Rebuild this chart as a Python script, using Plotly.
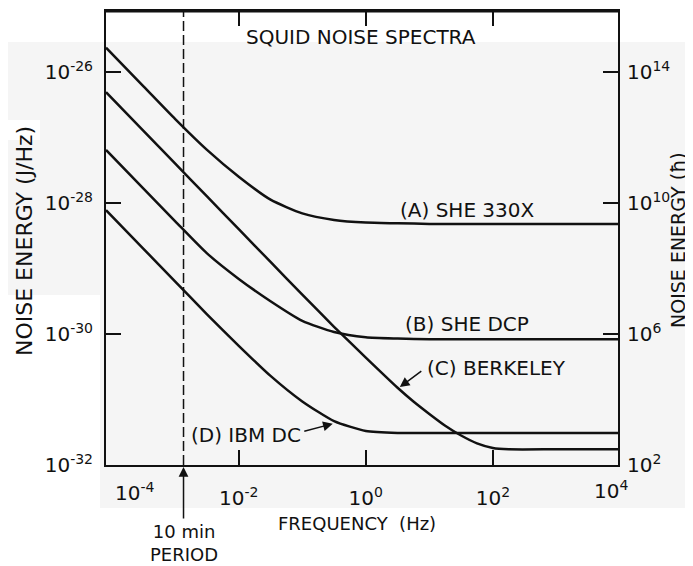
import math
import plotly.graph_objects as go

# ---------------- data (log10 units) ----------------
A_logf = [-4.09, -3.5, -3.0, -2.5, -2.0, -1.5, -1.0, -0.5, 0.0, 0.5, 1.0, 2.0, 3.0, 3.97]
A_logE = [-25.63, -26.22, -26.72, -27.19, -27.60, -27.95, -28.16, -28.26, -28.30, -28.31, -28.32, -28.32, -28.32, -28.32]

B_logf = [-4.09, -3.5, -3.0, -2.5, -2.0, -1.5, -1.0, -0.5, 0.0, 0.5, 1.0, 2.0, 3.0, 3.97]
B_logE = [-27.19, -27.78, -28.28, -28.77, -29.16, -29.50, -29.80, -29.97, -30.05, -30.07, -30.08, -30.08, -30.08, -30.08]

C_logf = [-4.09, -3.5, -3.0, -2.5, -2.0, -1.5, -1.0, -0.5, 0.0, 0.5, 0.75, 1.0, 1.25, 1.5, 1.75, 2.0, 2.25, 3.0, 3.97]
C_logE = [-26.31, -26.90, -27.40, -27.90, -28.40, -28.90, -29.40, -29.89, -30.36, -30.82, -31.03, -31.22, -31.40, -31.55, -31.67, -31.74, -31.76, -31.76, -31.76]

D_logf = [-4.09, -3.5, -3.0, -2.5, -2.0, -1.5, -1.0, -0.5, 0.0, 0.5, 1.0, 2.0, 3.0, 3.97]
D_logE = [-28.11, -28.70, -29.20, -29.70, -30.18, -30.64, -31.03, -31.33, -31.48, -31.51, -31.51, -31.51, -31.51, -31.51]

period_marker_hz = 1.35e-3

x_ticks = [1e-2, 1, 1e2]
x_ticktext = ["10<sup>-2</sup>", "10<sup>0</sup>", "10<sup>2</sup>"]
y_ticks = [1e-26, 1e-28, 1e-30, 1e-32]
y_ticktext = ["10<sup>-26</sup>", "10<sup>-28</sup>", "10<sup>-30</sup>", "10<sup>-32</sup>"]
y2_ticks = [1e14, 1e10, 1e6, 1e2]
y2_ticktext = ["10<sup>14</sup>", "10<sup>10</sup>", "10<sup>6</sup>", "10<sup>2</sup>"]

x_range_log = [-4.09, 3.97]
y_range_log = [-32, -25.07]
y2_range_log = [2, 15.86]

# ---------------- figure ----------------
FONT = "DejaVu Sans"
INK = "#111111"
GRAY = "#f5f5f5"

def pw(v):
    return [10 ** t for t in v]

fig = go.Figure()
for lf, le, name in [(A_logf, A_logE, "A"), (B_logf, B_logE, "B"),
                     (C_logf, C_logE, "C"), (D_logf, D_logE, "D")]:
    fig.add_trace(go.Scatter(x=pw(lf), y=pw(le), mode="lines", name=name,
                             line=dict(color=INK, width=2.5, shape="spline", smoothing=0.6),
                             showlegend=False, hoverinfo="skip"))

# 10 min period dashed marker
fig.add_trace(go.Scatter(x=[period_marker_hz, period_marker_hz],
                         y=[10 ** y_range_log[0], 10 ** y_range_log[1]],
                         mode="lines", line=dict(color=INK, width=1.5, dash="10px,4px"),
                         showlegend=False, hoverinfo="skip"))

# empty trace to activate right axis
fig.add_trace(go.Scatter(x=[None], y=[None], yaxis="y2", showlegend=False, hoverinfo="skip"))

OFF = 8  # page body margin
W, H = 693 - OFF, 566 - OFF
PL, PR, PT, PB = 106, 618, 11, 465      # plot area in page pixels
L = PL - OFF
T = PT - OFF
R = W - (PR - OFF)
B = H - (PB - OFF)
pwid = PR - PL
phei = PB - PT

def px_x(px):
    return (px - PL) / pwid

def px_y(py):
    return (PB - py) / phei

shapes = [
    dict(type="rect", xref="paper", yref="paper", layer="below",
         x0=px_x(8), x1=px_x(700), y0=px_y(295), y1=px_y(42),
         fillcolor=GRAY, line=dict(width=0)),
    dict(type="rect", xref="paper", yref="paper", layer="below",
         x0=px_x(100), x1=px_x(700), y0=px_y(508), y1=px_y(295),
         fillcolor=GRAY, line=dict(width=0)),
    dict(type="rect", xref="paper", yref="paper", layer="below",
         x0=px_x(0), x1=px_x(40), y0=px_y(140), y1=px_y(120),
         fillcolor="white", line=dict(width=0)),
    # heavier top frame line as in the original drawing
    dict(type="line", xref="paper", yref="paper", x0=0, x1=1, y0=1, y1=1,
         line=dict(color=INK, width=3)),
]

lp = math.log10(period_marker_hz)

def label(text, x, y, size, **kw):
    d = dict(text=text, xref="paper", yref="paper", x=px_x(x), y=px_y(y),
             xanchor="center", yanchor="middle", showarrow=False,
             font=dict(size=size, color=INK, family=FONT))
    d.update(kw)
    return d

annotations = [
    label("SQUID NOISE SPECTRA", 361, 37, 20),
    label("(A) SHE 330X", 467, 210, 20),
    label("(B) SHE DCP", 467, 324, 20),
    label("(C) BERKELEY", 496, 368, 20),
    label("(D) IBM DC", 246, 435, 20),
    # arrows to curves
    dict(text="", xref="x", yref="y", x=0.535, y=-30.81, ax=23, ay=-17,
         showarrow=True, arrowhead=2, arrowsize=1.3, arrowwidth=1.5, arrowcolor=INK),
    dict(text="", xref="x", yref="y", x=-0.52, y=-31.37, ax=-30, ay=8,
         showarrow=True, arrowhead=2, arrowsize=1.3, arrowwidth=1.5, arrowcolor=INK),
    # 10 min period arrow + text
    dict(text="", xref="x", yref="paper", x=lp, y=px_y(467), ax=0, ay=53,
         showarrow=True, arrowhead=2, arrowsize=1.3, arrowwidth=1.5, arrowcolor=INK),
    dict(text="10 min<br>PERIOD", xref="x", yref="paper", x=lp, y=px_y(543),
         xanchor="center", yanchor="middle",
         showarrow=False, font=dict(size=18, color=INK, family=FONT), align="center"),
    # edge tick labels
    label("10<sup>-4</sup>", 135, 492, 20),
    label("10<sup>4</sup>", 611, 490, 20),
    # axis titles
    label("FREQUENCY\u00a0\u00a0(Hz)", 357, 523, 18),
    label("NOISE ENERGY (J/Hz)", 25, 241, 22, textangle=-90),
    label("NOISE ENERGY (ħ)", 678, 240, 19, textangle=-90),
]

axis_common = dict(showgrid=False, zeroline=False, ticks="inside", ticklen=15,
                   tickwidth=1.5, tickcolor=INK, showline=True, linecolor=INK,
                   linewidth=2, tickfont=dict(size=20, color=INK, family=FONT))

fig.update_layout(
    width=W, height=H,
    margin=dict(l=L, r=R, t=T, b=B, pad=0, autoexpand=False),
    paper_bgcolor="white", plot_bgcolor="rgba(0,0,0,0)",
    font=dict(family=FONT, color=INK),
    showlegend=False,
    xaxis=dict(type="log", range=x_range_log, tickvals=x_ticks, ticktext=x_ticktext,
               mirror="ticks", ticklabelstandoff=14, automargin=False, **axis_common),
    yaxis=dict(type="log", range=y_range_log, tickvals=y_ticks, ticktext=y_ticktext,
               mirror="ticks", ticklabelstandoff=7, automargin=False, **axis_common),
    yaxis2=dict(type="log", range=y2_range_log, tickvals=y2_ticks, ticktext=y2_ticktext,
                overlaying="y", side="right", showgrid=False, zeroline=False,
                ticks="", showline=False, automargin=False,
                tickfont=dict(size=20, color=INK, family=FONT),
                ticklabelstandoff=8),
    shapes=shapes,
    annotations=annotations,
)

fig.write_html("out.html")
